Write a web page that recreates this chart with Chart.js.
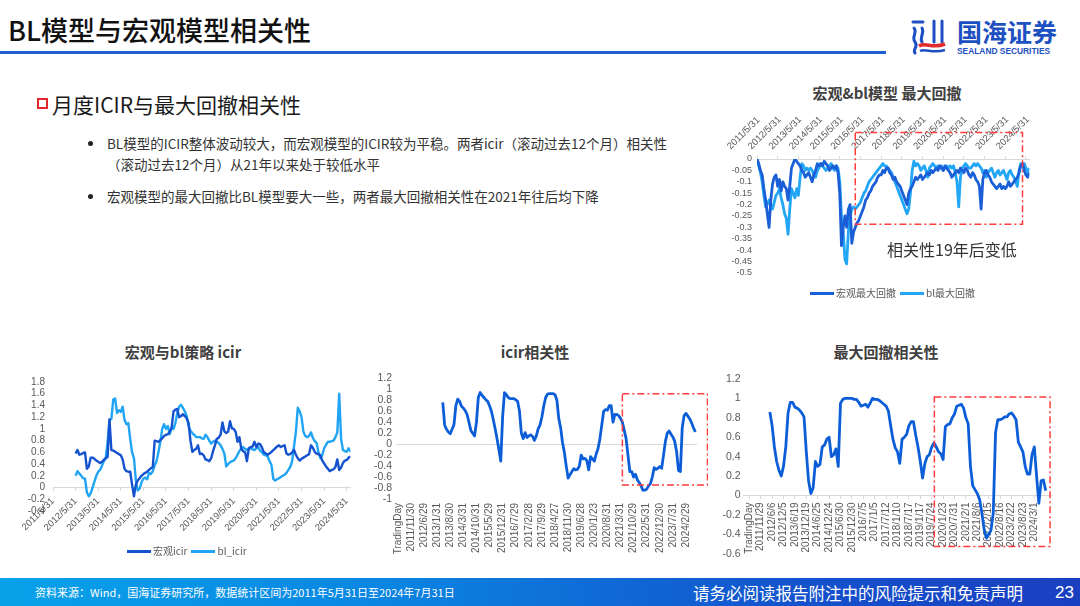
<!DOCTYPE html>
<html lang="zh">
<head>
<meta charset="UTF-8">
<title>BL模型与宏观模型相关性</title>
<script src="https://cdn.jsdelivr.net/npm/chart.js"></script>
<style>
  body { margin: 0; width: 1080px; height: 606px; position: relative; overflow: hidden; background: #fff;
         font-family: "Noto Sans CJK SC", "Noto Sans", sans-serif; }
  .abs { position: absolute; white-space: nowrap; }
  canvas { position: absolute; }
  .ctitle { position: absolute; width: 240px; text-align: center; font-size: 15px; font-weight: bold; color: #404040; line-height: 20px; }
  .legend { position: absolute; display: flex; align-items: center; font-size: 10px; color: #595959; line-height: 14px; }
  .legend .sw { display: inline-block; width: 24px; height: 3px; margin-right: 2px; }
  .bullet { position: absolute; left: 88px; width: 5px; height: 5px; border-radius: 50%; background: #222; }
  .btext { position: absolute; left: 107px; font-size: 13.5px; color: #333; line-height: 20px; white-space: nowrap; }
</style>
</head>
<body>
  <!-- header -->
  <div class="abs" style="left:8px; top:12px; font-size:27px; line-height:36px; color:#111; font-weight:500;">BL模型与宏观模型相关性</div>
  <div class="abs" style="left:0; top:51px; width:886px; height:3px; background:#1f5fcf;"></div>
  <svg class="abs" style="left:910px; top:19px;" width="38" height="37" viewBox="0 0 38 37">
    <g fill="none" stroke="#1d4fc4" stroke-width="3" stroke-linecap="round">
      <path d="M3 3 H13"/>
      <path d="M4 9 C8 13, 1 18, 5 23 S2 30, 5 34"/>
      <path d="M12 9 C15 14, 9 19, 12 23"/>
      <path d="M24 2 V23"/>
      <path d="M32 2 V23"/>
    </g>
    <path d="M9 27 C16 23, 22 30, 35 25" stroke="#e32b2b" stroke-width="3.5" fill="none"/>
    <path d="M10 32 C16 29, 22 35, 35 31" stroke="#1d4fc4" stroke-width="2.5" fill="none"/>
  </svg>
  <div class="abs" style="left:957px; top:16px; font-size:25px; line-height:30px; font-weight:bold; color:#1d50c0;">国海证券</div>
  <div class="abs" style="left:957px; top:46px; font-size:8.4px; line-height:10px; font-weight:bold; color:#1d50c0; font-family:'Liberation Sans', Arial, sans-serif;">SEALAND SECURITIES</div>

  <!-- section heading and bullets -->
  <div class="abs" style="left:37px; top:98px; width:7px; height:7px; border:2.5px solid #e5262a;"></div>
  <div class="abs" style="left:52px; top:90px; font-size:21px; line-height:28px; color:#1a1a1a;">月度ICIR与最大回撤相关性</div>
  <div class="bullet" style="top:141px;"></div>
  <div class="btext" style="top:133px;">BL模型的ICIR整体波动较大，而宏观模型的ICIR较为平稳。两者icir（滚动过去12个月）相关性</div>
  <div class="btext" style="top:154px;">（滚动过去12个月）从21年以来处于较低水平</div>
  <div class="bullet" style="top:194px;"></div>
  <div class="btext" style="top:186px;">宏观模型的最大回撤比BL模型要大一些，两者最大回撤相关性在2021年往后均下降</div>

  <!-- chart titles -->
  <div class="ctitle" style="left:767px; top:83px;">宏观&amp;bl模型 最大回撤</div>
  <div class="ctitle" style="left:63px; top:342px;">宏观与bl策略 icir</div>
  <div class="ctitle" style="left:415px; top:342px;">icir相关性</div>
  <div class="ctitle" style="left:766px; top:342px;">最大回撤相关性</div>

  <canvas id="ddChart" width="345" height="190" style="left:715px; top:95px;"></canvas>
  <canvas id="icirChart" width="357" height="180" style="left:8px; top:368px;"></canvas>
  <canvas id="icirCorrChart" width="350" height="200" style="left:358px; top:368px;"></canvas>
  <canvas id="ddCorrChart" width="350" height="195" style="left:712px; top:368px;"></canvas>

  <div class="abs" style="left:887px; top:238px; font-size:16px; line-height:22px; color:#333;">相关性19年后变低</div>

  <!-- legends -->
  <div class="legend" style="left:810px; top:286px;">
    <span class="sw" style="background:#1a5fd8;"></span><span>宏观最大回撤</span>
    <span class="sw" style="background:#22a6f5; margin-left:4px;"></span><span>bl最大回撤</span>
  </div>
  <div class="legend" style="left:127px; top:544px;">
    <span class="sw" style="background:#1552d0;"></span><span>宏观icir</span>
    <span class="sw" style="background:#20a4f3; margin-left:4px;"></span><span>bl_icir</span>
  </div>

  <!-- footer -->
  <div class="abs" style="left:0; top:578px; width:1080px; height:28px; background:linear-gradient(90deg, #08a2ea 0%, #0a86e2 35%, #1451cc 75%, #1a3fc0 100%);"></div>
  <div class="abs" style="left:35px; top:584px; font-size:11px; line-height:16px; color:#fff;">资料来源：Wind，国海证券研究所，数据统计区间为2011年5月31日至2024年7月31日</div>
  <div class="abs" style="left:693px; top:581px; font-size:16.5px; line-height:24px; color:#fff;">请务必阅读报告附注中的风险提示和免责声明</div>
  <div class="abs" style="left:1055px; top:581px; font-size:17px; line-height:24px; color:#fff; font-family:'Liberation Sans', Arial, sans-serif;">23</div>

<script>
// ---- data ----
const YEAR_TICKS = ['2011/5/31', '2012/5/31', '2013/5/31', '2014/5/31', '2015/5/31', '2016/5/31', '2017/5/31',
  '2018/5/31', '2019/5/31', '2020/5/31', '2021/5/31', '2022/5/31', '2023/5/31', '2024/5/31'];

// max drawdown, monthly 2011/5 .. 2024/7
const DD_MACRO = [
  0, -0.02, -0.05, -0.07, -0.13, -0.18, -0.24, -0.30, -0.18, -0.11,
  -0.08, -0.07, -0.12, -0.09, -0.14, -0.10, -0.12, -0.13, -0.18, -0.12,
  -0.04, -0.02, 0, -0.01, -0.02, -0.03, -0.05, -0.06, -0.08, -0.07,
  -0.06, -0.08, -0.10, -0.07, -0.05, -0.02, -0.03, -0.02, -0.03, -0.01,
  -0.02, -0.03, -0.05, -0.04, -0.03, -0.04, -0.03, -0.06, -0.15, -0.38,
  -0.30, -0.25, -0.30, -0.22, -0.20, -0.37, -0.32, -0.30, -0.28, -0.27,
  -0.25, -0.23, -0.21, -0.18, -0.17, -0.15, -0.14, -0.12, -0.11, -0.10,
  -0.08, -0.07, -0.07, -0.05, -0.06, -0.04, -0.04, -0.06, -0.07, -0.09,
  -0.08, -0.10, -0.11, -0.12, -0.14, -0.16, -0.18, -0.20, -0.15, -0.13,
  -0.12, -0.10, -0.08, -0.09, -0.08, -0.07, -0.09, -0.08, -0.07, -0.06,
  -0.07, -0.05, -0.06, -0.05, -0.04, -0.05, -0.03, -0.04, -0.05, -0.03,
  -0.04, -0.05, -0.06, -0.08, -0.07, -0.06, -0.05, -0.06, -0.04, -0.05,
  -0.06, -0.04, -0.05, -0.07, -0.08, -0.06, -0.07, -0.09, -0.10, -0.12,
  -0.22, -0.09, -0.06, -0.05, -0.07, -0.08, -0.10, -0.11, -0.12, -0.13,
  -0.12, -0.11, -0.13, -0.12, -0.13, -0.12, -0.10, -0.12, -0.11, -0.10,
  -0.09, -0.08, -0.06, -0.03, -0.02, -0.05, -0.07, -0.08, -0.06
];
const DD_BL = [
  0, -0.03, -0.06, -0.10, -0.16, -0.21, -0.20, -0.18, -0.20, -0.22,
  -0.19, -0.16, -0.15, -0.13, -0.17, -0.20, -0.24, -0.26, -0.33, -0.22,
  -0.13, -0.15, -0.17, -0.13, -0.16, -0.08, -0.02, -0.03, -0.05, -0.04,
  -0.05, -0.04, -0.05, -0.07, -0.08, -0.05, -0.04, -0.02, -0.03, -0.04,
  -0.05, -0.04, -0.03, -0.02, -0.04, -0.05, -0.03, -0.04, -0.10, -0.25,
  -0.32, -0.44, -0.46, -0.32, -0.25, -0.22, -0.21, -0.22, -0.21, -0.20,
  -0.19, -0.17, -0.15, -0.14, -0.12, -0.10, -0.09, -0.08, -0.07, -0.06,
  -0.05, -0.04, -0.03, -0.02, -0.03, -0.03, -0.04, -0.05, -0.06, -0.08,
  -0.10, -0.12, -0.14, -0.16, -0.18, -0.20, -0.22, -0.24, -0.22, -0.15,
  -0.05, -0.01, -0.03, -0.02, -0.03, -0.05, -0.04, -0.03, -0.05, -0.08,
  -0.04, -0.03, -0.02, -0.03, -0.04, -0.03, -0.04, -0.03, -0.05, -0.04,
  -0.03, -0.04, -0.03, -0.04, -0.03, -0.06, -0.10, -0.21, -0.08, -0.04,
  -0.03, -0.02, -0.03, -0.04, -0.04, -0.03, -0.02, -0.03, -0.02, -0.03,
  -0.04, -0.06, -0.05, -0.08, -0.06, -0.05, -0.04, -0.06, -0.08, -0.06,
  -0.05, -0.07, -0.06, -0.05, -0.07, -0.09, -0.06, -0.05, -0.07, -0.08,
  -0.10, -0.12, -0.05, -0.02, -0.03, -0.02, -0.04, -0.06, -0.04
];

// rolling icir, monthly from 2012/5 (month 12) .. 2024/7
const ICIR_START = 12;
const ICIR_MACRO = [
  0.58, 0.64, 0.56, 0.57, 0.59, 0.60, 0.32, 0.36, 0.51, 0.51,
  0.49, 0.46, 0.44, 0.42, 0.44, 0.47, 0.50, 0.52, 1.16, 0.64,
  0.63, 0.61, 0.59, 0.57, 0.55, 0.48, 0.32, 0.28, 0.27, 0.27,
  0.05, -0.15, 0.05, 0.12, 0.16, 0.20, 0.23, 0.25, 0.27, 0.30,
  0.33, 0.35, 0.80, 0.79, 0.78, 0.81, 0.84, 0.88, 0.90, 0.91,
  0.95, 1.02, 1.30, 1.33, 1.34, 1.20, 1.22, 1.25, 1.22, 1.18,
  1.10, 0.80, 0.61, 0.64, 0.66, 0.72, 0.57, 0.58, 0.55, 0.48,
  0.47, 0.45, 0.50, 0.62, 0.72, 0.83, 0.85, 0.90, 1.11, 0.96,
  0.93, 0.95, 1.13, 1.01, 1.00, 0.95, 0.78, 0.86, 0.66, 0.62,
  0.60, 0.45, 0.67, 0.69, 0.70, 0.78, 0.69, 0.75, 0.74, 0.68,
  0.60, 0.58, 0.56, 0.58, 0.61, 0.64, 0.67, 0.70, 0.72, 0.69,
  0.71, 0.72, 0.58, 0.56, 0.57, 0.60, 0.64, 0.56, 0.50, 0.46,
  0.49, 0.51, 0.53, 0.55, 0.57, 0.72, 0.68, 0.61, 0.58, 0.57,
  0.55, 0.46, 0.41, 0.36, 0.32, 0.28, 0.30, 0.31, 0.35, 0.48,
  0.30, 0.34, 0.42, 0.46, 0.47, 0.51, 0.53
];
const ICIR_BL = [
  0.20, 0.28, 0.24, 0.20, 0.16, 0.15, -0.08, -0.15, -0.10, 0.00,
  0.10, 0.20, 0.27, 0.30, 0.37, 0.45, 0.50, 0.78, 1.16, 1.17,
  1.50, 1.52, 1.27, 1.32, 1.29, 1.38, 1.15, 1.08, 1.10, 0.83,
  0.60, 0.50, 0.12, -0.05, -0.02, 0.09, 0.15, 0.17, 0.14, 0.25,
  0.23, 0.28, 0.38, 0.45, 0.60, 0.78, 1.00, 1.08, 1.00, 1.05,
  0.91, 1.02, 1.00, 1.10, 1.27, 1.38, 1.41, 1.36, 1.30, 1.22,
  1.05, 0.97, 0.93, 0.90, 0.86, 0.86, 0.86, 0.84, 0.83, 0.90,
  0.86, 0.80, 0.75, 0.78, 0.80, 0.78, 0.76, 0.72, 0.66, 0.58,
  0.36, 0.40, 0.43, 0.45, 0.46, 0.50, 0.56, 0.62, 0.67, 0.69,
  0.66, 0.64, 0.66, 0.67, 0.65, 0.64, 0.67, 0.69, 0.63, 0.60,
  0.56, 0.55, 0.53, 0.45, 0.39, 0.15, 0.12, 0.14, 0.16, 0.18,
  0.20, 0.22, 0.25, 0.30, 0.35, 0.45, 0.70, 0.95, 1.36, 1.30,
  1.20, 0.95, 0.88, 0.86, 0.88, 0.94, 0.85, 0.79, 0.76, 0.60,
  0.50, 0.55, 0.67, 0.73, 0.78, 0.78, 0.79, 0.80, 0.86, 0.94,
  1.60, 0.83, 0.64, 0.62, 0.61, 0.67, 0.61
];

// icir correlation; category 0 is the "TradingDay" header, then monthly 2011/5 .. 2024/7
const ICIR_CORR_TICKS = ['TradingDay', '2011/11/30', '2012/6/29', '2013/1/31', '2013/8/30', '2014/3/31',
  '2014/10/31', '2015/5/29', '2015/12/31', '2016/7/29', '2017/2/28', '2017/9/29', '2018/4/27', '2018/11/30',
  '2019/6/28', '2020/1/23', '2020/8/31', '2021/3/31', '2021/10/29', '2022/5/31', '2022/12/30', '2023/7/31', '2024/2/29'];
const ICIR_CORR_START = 24;
const ICIR_CORR = [
  0.76, 0.35, 0.27, 0.22, 0.19, 0.27, 0.36, 0.70, 0.82, 0.78,
  0.69, 0.66, 0.61, 0.54, 0.40, 0.25, 0.20, 0.15, 0.40, 0.85,
  0.94, 0.89, 0.85, 0.81, 0.78, 0.70, 0.60, 0.45, 0.28, 0.10,
  -0.10, -0.31, 0.50, 0.94, 0.90, 0.85, 0.83, 0.83, 0.83, 0.81,
  0.78, 0.60, 0.20, 0.10, 0.21, 0.12, 0.15, 0.17, 0.14, 0.07,
  0.15, 0.28, 0.35, 0.50, 0.70, 0.85, 0.91, 0.92, 0.92, 0.92,
  0.90, 0.80, 0.47, 0.30, 0.03, -0.15, -0.40, -0.62, -0.56, -0.50,
  -0.45, -0.47, -0.46, -0.40, -0.20, -0.27, -0.26, -0.30, -0.47, -0.23,
  -0.27, -0.31, -0.18, -0.08, 0.10, 0.35, 0.60, 0.63, 0.62, 0.70,
  0.70, 0.40, 0.54, 0.54, 0.52, 0.47, 0.40, 0.25, 0.10, -0.20,
  -0.50, -0.50, -0.60, -0.55, -0.65, -0.70, -0.76, -0.84, -0.84, -0.82,
  -0.76, -0.72, -0.60, -0.43, -0.46, -0.44, -0.41, -0.44, -0.20, 0.05,
  0.20, 0.24, 0.18, 0.13, 0.05, -0.14, -0.48, -0.50, 0.30, 0.52,
  0.56, 0.51, 0.46, 0.39, 0.30, 0.22
];

// max drawdown correlation, x in trading days (0 = "TradingDay" header), one label every 120 days
const DD_CORR_TICKS = ['TradingDay', '2011/11/29', '2012/6/6', '2012/12/5', '2013/6/19', '2013/12/19',
  '2014/6/25', '2014/12/24', '2015/6/30', '2015/12/30', '2016/7/5', '2017/1/5', '2017/7/12', '2018/1/10',
  '2018/7/17', '2019/1/17', '2019/7/24', '2020/1/23', '2020/7/31', '2021/2/1', '2021/8/6', '2022/2/15',
  '2022/8/16', '2023/2/22', '2023/8/23', '2024/3/1'];
const DD_CORR_START = 216;
const DD_CORR_STEP = 24;
const DD_CORR = [
  0.86, 0.72, 0.50, 0.35, 0.26, 0.20, 0.30, 0.50, 0.85, 0.96,
  0.96, 0.91, 0.90, 0.88, 0.85, 0.81, 0.45, 0.15, 0.02, 0.08,
  0.35, 0.30, 0.32, 0.50, 0.52, 0.58, 0.60, 0.40, 0.42, 0.48,
  0.30, 0.95, 0.99, 1.00, 1.00, 1.00, 1.00, 0.99, 0.99, 0.96,
  0.92, 0.93, 0.94, 0.91, 0.95, 1.00, 0.99, 0.99, 0.98, 0.96,
  0.94, 0.92, 0.87, 0.72, 0.58, 0.49, 0.45, 0.33, 0.58, 0.60,
  0.63, 0.72, 0.76, 0.76, 0.62, 0.50, 0.35, 0.18, 0.33, 0.40,
  0.42, 0.50, 0.54, 0.50, 0.45, 0.43, 0.37, 0.71, 0.73, 0.74,
  0.80, 0.84, 0.92, 0.93, 0.94, 0.90, 0.80, 0.74, 0.30, 0.10,
  0.06, 0.02, -0.04, -0.18, -0.35, -0.44, -0.40, -0.36, -0.18, 0.65,
  0.78, 0.78, 0.79, 0.81, 0.81, 0.84, 0.85, 0.82, 0.78, 0.55,
  0.50, 0.45, 0.30, 0.22, 0.22, 0.42, 0.50, 0.20, -0.08, 0.15,
  0.16, 0.05
];

// highlighted regions [x0, x1, y0, y1] in data units
const DD_BOX = [57, 154, 0.116, -0.286];
const ICIR_CORR_BOX = [120, 165.5, 0.92, -0.745];
const DD_CORR_BOX = [1948, 3166, 1.015, -0.526];

// ---- style ----
const DARK = '#1a5fd8';
const LIGHT = '#22a6f5';
const LINE = '#0b5ed7';
const AXIS = '#d9d9d9';
const RED = '#ff3b3b';

Chart.defaults.font.family = "'Liberation Sans', Arial, sans-serif";
Chart.defaults.color = '#595959';

const dashBox = {
  id: 'dashBox',
  afterDatasetsDraw(chart, args, opts) {
    if (!opts.box) return;
    const [x0, x1, y0, y1] = opts.box;
    const sx = chart.scales.x, sy = chart.scales.y;
    const px0 = sx.getPixelForValue(x0), px1 = sx.getPixelForValue(x1);
    const py0 = sy.getPixelForValue(y0), py1 = sy.getPixelForValue(y1);
    const ctx = chart.ctx;
    ctx.save();
    ctx.strokeStyle = RED;
    ctx.lineWidth = 1.5;
    ctx.setLineDash([7, 3, 2, 3]);
    ctx.strokeRect(px0, py0, px1 - px0, py1 - py0);
    ctx.restore();
  }
};

const toPoints = (arr, start, step) => arr.map((v, i) => ({ x: start + i * (step || 1), y: v }));
const fmt = d => v => String(Number(v.toFixed(d)));
const line = (label, data, color, width) => ({
  label, data, borderColor: color, backgroundColor: color, borderWidth: width,
  pointRadius: 0, tension: 0, borderJoinStyle: 'round', fill: false
});
const base = (padding, box) => ({
  responsive: false,
  animation: false,
  layout: { padding },
  plugins: { legend: { display: false }, tooltip: { enabled: false }, dashBox: { box } }
});

// 宏观&bl模型 最大回撤
new Chart(document.getElementById('ddChart'), {
  type: 'line',
  data: { datasets: [
    line('宏观最大回撤', toPoints(DD_MACRO, 0), DARK, 2.8),
    line('bl最大回撤', toPoints(DD_BL, 0), LIGHT, 2.8)
  ] },
  options: {
    ...base({ left: 0, right: 13, top: 0, bottom: 12 }, DD_BOX),
    scales: {
      x: {
        type: 'linear', position: 'top', min: 0, max: 158,
        afterBuildTicks: s => { s.ticks = YEAR_TICKS.map((t, j) => ({ value: j * 12 })); },
        afterFit: s => { s.height = 64; },
        ticks: { autoSkip: false, minRotation: 45, maxRotation: 45, labelOffset: -20, padding: 4,
                 font: { size: 9.5 }, callback: (v, i) => YEAR_TICKS[i] },
        grid: { drawOnChartArea: false, tickLength: 3, color: AXIS },
        border: { color: AXIS }
      },
      y: {
        min: -0.5, max: 0,
        afterFit: s => { s.width = 42; },
        ticks: { autoSkip: false, stepSize: 0.05, padding: 5, font: { size: 9 }, callback: fmt(2) },
        grid: { display: false, drawTicks: false },
        border: { display: false }
      }
    }
  },
  plugins: [dashBox]
});

// 宏观与bl策略 icir
new Chart(document.getElementById('icirChart'), {
  type: 'line',
  data: { datasets: [
    line('宏观icir', toPoints(ICIR_MACRO, ICIR_START), '#1552d0', 2.4),
    line('bl_icir', toPoints(ICIR_BL, ICIR_START), '#20a4f3', 2.4)
  ] },
  options: {
    ...base({ left: 0, right: 14.5, top: 10, bottom: 37 }),
    scales: {
      x: {
        type: 'linear', position: { y: 0 }, min: 0, max: 158,
        afterBuildTicks: s => { s.ticks = YEAR_TICKS.map((t, j) => ({ value: j * 12 })); },
        ticks: { autoSkip: false, minRotation: 45, maxRotation: 45, padding: 5,
                 font: { size: 9.5 }, callback: (v, i) => YEAR_TICKS[i] },
        grid: { drawOnChartArea: false, tickLength: 3, color: AXIS },
        border: { color: AXIS }
      },
      y: {
        min: -0.4, max: 1.8,
        afterFit: s => { s.width = 45; },
        ticks: { autoSkip: false, stepSize: 0.2, padding: 8, font: { size: 10 }, callback: fmt(1) },
        grid: { display: false, drawTicks: false },
        border: { display: false }
      }
    }
  },
  plugins: [dashBox]
});

// icir相关性
new Chart(document.getElementById('icirCorrChart'), {
  type: 'line',
  data: { datasets: [ line('icir相关性', toPoints(ICIR_CORR, ICIR_CORR_START), LINE, 2.8) ] },
  options: {
    ...base({ left: 0, right: 10.8, top: 10, bottom: 0 }, ICIR_CORR_BOX),
    scales: {
      x: {
        type: 'linear', min: -1, max: 160,
        afterBuildTicks: s => { s.ticks = ICIR_CORR_TICKS.map((t, j) => ({ value: j * 7 })); },
        afterFit: s => { s.height = 69; },
        ticks: { autoSkip: false, minRotation: 90, maxRotation: 90, padding: 4,
                 font: { size: 10 }, callback: (v, i) => ICIR_CORR_TICKS[i] },
        grid: { display: false, drawTicks: false },
        border: { display: false }
      },
      y: {
        min: -1, max: 1.2,
        afterFit: s => { s.width = 38; },
        ticks: { autoSkip: false, stepSize: 0.2, padding: 4, font: { size: 10.5 }, callback: fmt(1) },
        grid: { drawTicks: false, color: c => (Math.abs(c.tick.value) < 1e-9 ? AXIS : 'rgba(0,0,0,0)') },
        border: { display: false }
      }
    }
  },
  plugins: [dashBox]
});

// 最大回撤相关性
new Chart(document.getElementById('ddCorrChart'), {
  type: 'line',
  data: { datasets: [ line('最大回撤相关性', toPoints(DD_CORR, DD_CORR_START, DD_CORR_STEP), LINE, 2.8) ] },
  options: {
    ...base({ left: 0, right: 10.6, top: 11, bottom: 9 }, DD_CORR_BOX),
    scales: {
      x: {
        type: 'linear', position: { y: 0 }, min: -60, max: 3180,
        afterBuildTicks: s => { s.ticks = DD_CORR_TICKS.map((t, j) => ({ value: j * 120 })); },
        ticks: { autoSkip: false, minRotation: 90, maxRotation: 90, padding: 4,
                 font: { size: 10 }, callback: (v, i) => DD_CORR_TICKS[i] },
        grid: { drawOnChartArea: false, tickLength: 3, color: AXIS },
        border: { color: AXIS }
      },
      y: {
        min: -0.6, max: 1.2,
        afterFit: s => { s.width = 31.6; },
        ticks: { autoSkip: false, stepSize: 0.2, padding: 3, font: { size: 10.5 }, callback: fmt(1) },
        grid: { display: false, drawTicks: false },
        border: { display: false }
      }
    }
  },
  plugins: [dashBox]
});
</script>
</body>
</html>
